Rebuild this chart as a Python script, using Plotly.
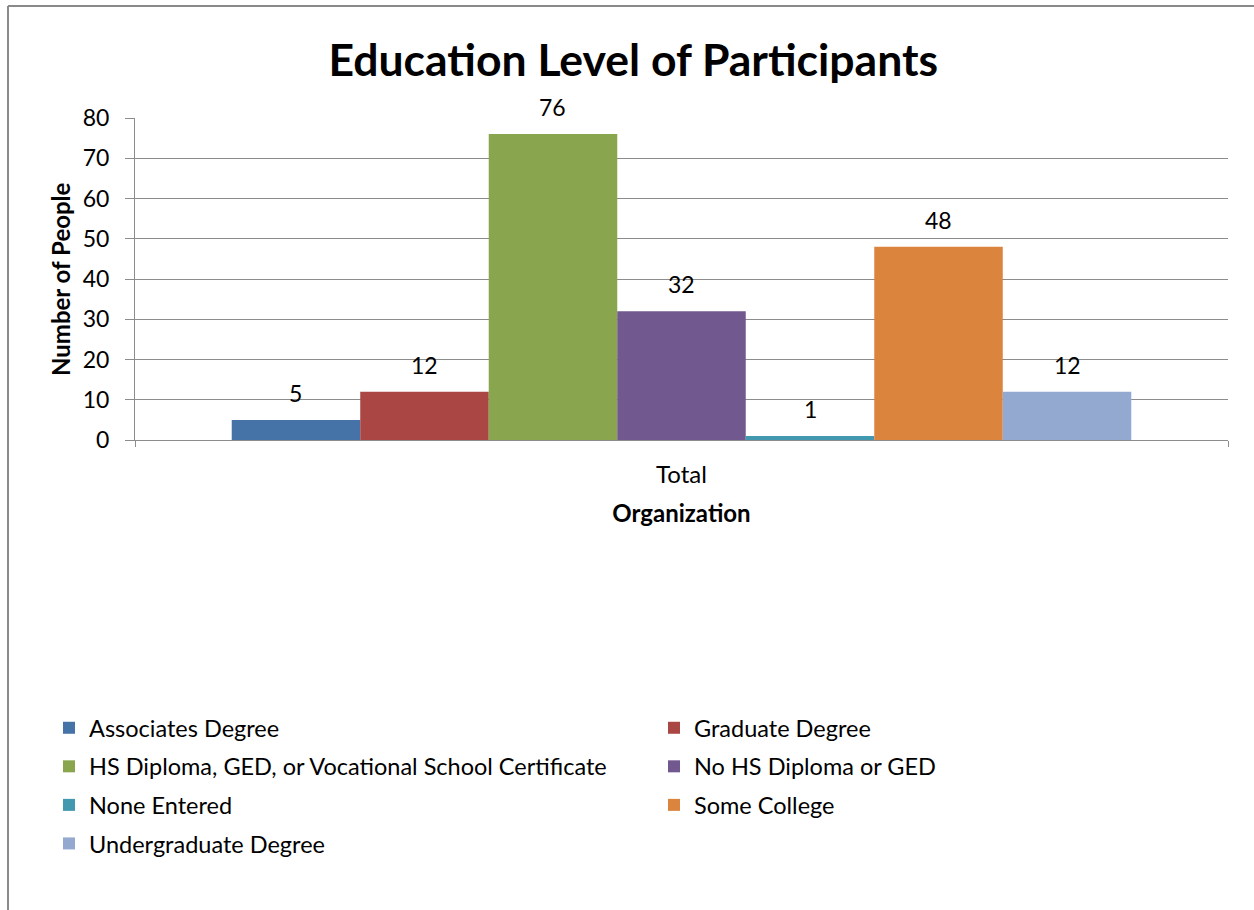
import plotly.graph_objects as go

# Survey totals by education level
categories = ["Total"]
levels = [
    "Associates Degree",
    "Graduate Degree",
    "HS Diploma, GED, or Vocational School Certificate",
    "No HS Diploma or GED",
    "None Entered",
    "Some College",
    "Undergraduate Degree",
]
counts = [5, 12, 76, 32, 1, 48, 12]
colors = ["#4572A7", "#AA4643", "#89A54E", "#71588F", "#4198AF", "#DB843D", "#93A9CF"]
# left legend column / right legend column
legend_ids = ["legend", "legend2", "legend", "legend2", "legend", "legend2", "legend"]

FONT = "Lato, Calibri, sans-serif"
GRID = "#8c8c8c"
BARGAP = 0.177

# plot-area geometry in pixels (for placing items outside the axes)
W, H = 1254, 910
L, R, T, B = 135, 26, 118, 470
PW, PH = W - L - R, H - T - B


def px_to_paper(px, py):
    return (px - L) / PW, (H - B - py) / PH


fig = go.Figure()
for name, val, col, lg in zip(levels, counts, colors, legend_ids):
    fig.add_trace(go.Bar(
        name=name,
        x=categories,
        y=[val],
        marker=dict(color=col, line=dict(width=0)),
        legend=lg,
        legendgroup=name,
    ))

# value labels above each bar, placed on the category axis at the bar's slot
n = len(levels)
slot = (1 - BARGAP) / n
for i, val in enumerate(counts):
    fig.add_annotation(
        x=-0.5 + BARGAP / 2 + (i + 0.5) * slot,
        y=val,
        xref="x",
        yref="y",
        text=str(val),
        showarrow=False,
        yanchor="middle",
        yshift=27,
        font=dict(family=FONT, size=23, color="#000000"),
    )

# y-axis title
tx, ty = px_to_paper(60, 279)
fig.add_annotation(
    x=tx, y=ty, xref="paper", yref="paper",
    text="<b>Number of People</b>", textangle=-90, showarrow=False,
    xanchor="center", yanchor="middle",
    font=dict(family=FONT, size=24, color="#000000"),
)

legend_common = dict(
    orientation="v",
    xref="container",
    yref="container",
    xanchor="left",
    yanchor="top",
    font=dict(family=FONT, size=23.5, color="#000000"),
    bgcolor="rgba(0,0,0,0)",
    tracegroupgap=5,
    itemclick=False,
)

fig.update_layout(
    width=W,
    height=H,
    paper_bgcolor="white",
    plot_bgcolor="white",
    margin=dict(l=L, r=R, t=T, b=B, autoexpand=False),
    barmode="group",
    bargap=BARGAP,
    bargroupgap=0,
    title=dict(
        text="<b>Education Level of Participants</b>",
        x=0.505,
        xanchor="center",
        y=0.934,
        yanchor="middle",
        font=dict(family=FONT, size=44.5, color="#000000"),
    ),
    xaxis=dict(
        type="category",
        range=[-0.5, 0.5],
        showgrid=False,
        showline=True,
        linecolor=GRID,
        linewidth=1,
        ticks="outside",
        tickson="boundaries",
        ticklen=6,
        tickcolor=GRID,
        ticklabelstandoff=13,
        tickfont=dict(family=FONT, size=24, color="#000000"),
        title=dict(text="<b>Organization</b>", font=dict(family=FONT, size=24, color="#000000"), standoff=18),
    ),
    yaxis=dict(
        range=[0, 80],
        dtick=10,
        showgrid=True,
        gridcolor=GRID,
        gridwidth=1,
        showline=True,
        linecolor=GRID,
        linewidth=1,
        ticks="outside",
        ticklen=9,
        tickcolor=GRID,
        ticklabelstandoff=11,
        zeroline=False,
        tickfont=dict(family=FONT, size=23, color="#000000"),
    ),
    legend=dict(x=49 / W, y=1 - 706 / H, **legend_common),
    legend2=dict(x=654 / W, y=1 - 706 / H, **legend_common),
    showlegend=True,
)

# chart frame (left and top edges)
fx0, fy0 = px_to_paper(8, 6)
fx1, fy1 = px_to_paper(1260, 915)
fig.add_shape(type="line", xref="paper", yref="paper",
              x0=fx0, x1=fx0, y0=fy0, y1=fy1,
              line=dict(color="#8a8a8a", width=2))
fig.add_shape(type="line", xref="paper", yref="paper",
              x0=fx0, x1=fx1, y0=fy0, y1=fy0,
              line=dict(color="#8a8a8a", width=2))

fig.write_html("out.html")
